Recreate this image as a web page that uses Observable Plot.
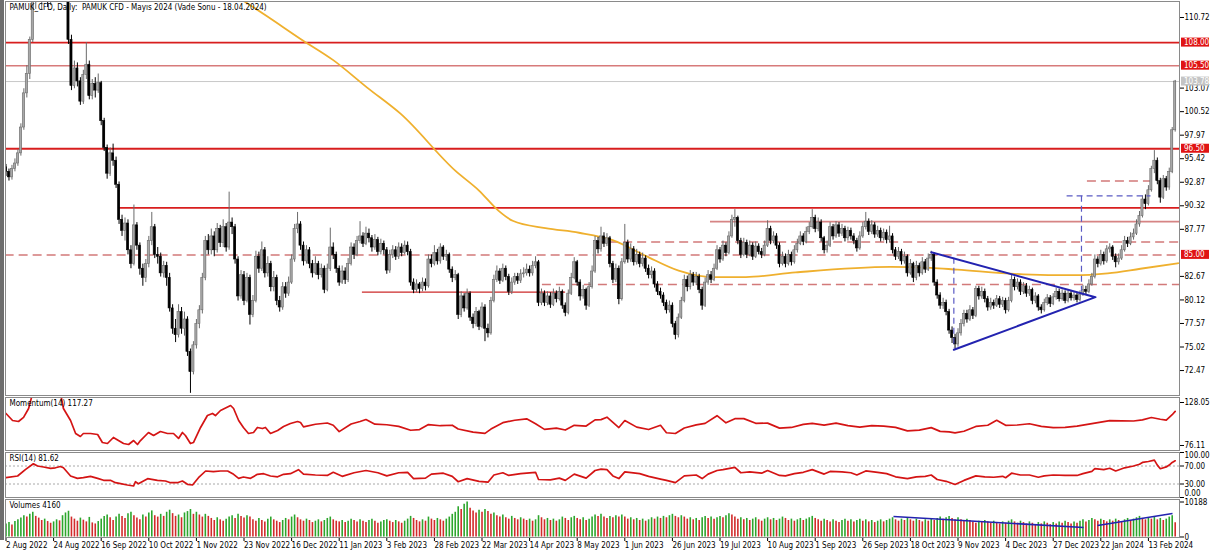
<!DOCTYPE html>
<html><head><meta charset="utf-8">
<script src="https://cdn.jsdelivr.net/npm/d3@7"></script>
<script src="https://cdn.jsdelivr.net/npm/@observablehq/plot@0.6"></script>
<style>
html,body{margin:0;padding:0;background:#fff;}
#wrap{position:relative;width:1211px;height:555px;overflow:hidden;background:#fff;}
#charts svg{display:block;}
#strip{position:absolute;left:0;top:0;width:4px;height:540px;background:#6e6e6e;}
</style></head>
<body><div id="wrap"><div id="charts"></div><div id="strip"></div></div>
<script>
// ---------------- DATA ----------------
const title = "PAMUK_CFD, Daily:  PAMUK CFD - Mayıs 2024 (Vade Sonu - 18.04.2024)";
const dateLabels = ["2 Aug 2022","24 Aug 2022","16 Sep 2022","10 Oct 2022","1 Nov 2022","23 Nov 2022","16 Dec 2022","11 Jan 2023","3 Feb 2023","28 Feb 2023","22 Mar 2023","14 Apr 2023","8 May 2023","1 Jun 2023","26 Jun 2023","19 Jul 2023","10 Aug 2023","1 Sep 2023","26 Sep 2023","18 Oct 2023","9 Nov 2023","4 Dec 2023","27 Dec 2023","22 Jan 2024","13 Feb 2024"];
const barsPerLabel = 16;
const firstOpen = 94.5;
const closes = [
94.0,93.4,94.3,94.9,96.0,98.8,102.5,104.6,108.3,112.5,114.0,115.5,116.0,117.0,115.0,116.0,
117.0,118.0,116.5,117.0,115.0,108.3,103.3,105.2,103.8,101.6,104.5,105.6,102.2,103.5,102.8,103.6,
99.5,96.6,93.8,96.0,95.2,92.6,88.8,87.6,88.4,85.5,84.0,88.2,86.0,83.5,82.5,84.0,
86.5,88.0,85.0,84.8,83.0,83.8,82.5,79.2,77.0,76.3,78.8,77.0,78.0,74.5,72.3,75.2,
77.5,79.0,82.5,86.5,85.5,87.0,85.5,87.8,86.3,88.0,85.8,88.5,88.0,84.5,80.5,82.8,
80.0,82.5,78.5,80.0,84.8,83.5,85.5,83.0,84.0,81.5,82.5,80.0,79.3,81.5,80.8,82.0,
84.5,87.8,88.3,86.0,84.3,85.5,84.0,83.0,84.0,82.8,83.5,81.2,83.5,85.8,85.0,83.5,
82.0,83.2,82.3,84.0,85.8,85.0,86.5,87.0,86.2,87.3,86.8,85.8,86.6,85.3,86.2,85.5,
83.3,85.0,85.5,84.8,85.8,85.2,86.0,85.3,82.0,81.2,81.8,81.3,82.0,81.6,84.5,84.0,
85.2,84.3,85.8,84.8,85.0,83.4,82.5,82.8,78.5,80.5,79.2,80.8,78.2,77.5,78.8,77.2,
79.3,77.0,76.5,80.0,82.3,83.2,82.2,83.5,82.6,81.0,82.0,82.6,82.2,82.9,83.0,83.4,
83.0,83.8,84.2,79.8,80.8,79.8,80.5,79.6,80.8,80.2,81.0,79.5,78.7,80.8,82.5,84.2,
82.0,80.5,81.2,79.5,81.5,83.2,86.5,85.6,87.0,86.2,86.8,84.0,82.3,83.5,80.2,84.2,
86.3,84.5,85.6,84.2,85.0,84.0,84.6,83.5,82.8,83.2,81.8,81.0,80.6,79.8,79.0,79.5,
77.5,76.3,78.2,80.0,82.3,81.5,82.8,82.0,82.6,81.2,79.5,82.0,82.8,82.3,83.5,85.5,
84.5,86.0,85.2,87.0,88.8,89.0,86.5,85.0,86.3,85.0,86.0,84.8,85.9,85.3,85.0,86.0,
87.8,86.5,87.0,86.0,84.0,84.8,84.0,85.0,84.2,85.5,86.2,87.0,86.4,87.5,88.0,89.0,
87.8,88.5,86.8,85.5,86.0,88.0,87.0,88.2,87.3,87.8,86.8,87.6,87.0,86.5,85.7,87.0,
88.0,88.6,87.5,88.2,87.2,87.6,86.8,87.4,86.6,87.0,85.5,84.8,85.3,84.3,84.8,83.0,
84.0,82.5,83.8,83.0,84.2,83.4,84.6,85.0,82.0,80.6,79.5,79.8,78.8,76.8,76.0,75.3,
76.5,77.5,78.6,78.0,79.0,78.4,81.3,80.5,81.0,80.2,79.3,79.8,79.5,80.2,79.6,80.0,
79.0,80.0,82.3,81.5,82.0,81.0,81.6,80.8,81.2,80.0,80.5,79.3,79.0,79.8,80.3,79.7,
80.4,81.0,80.2,80.8,80.0,80.8,80.3,80.6,80.1,80.7,81.2,81.0,81.8,82.6,84.5,84.0,
85.0,84.3,85.6,85.8,84.8,84.2,84.6,85.5,86.5,86.2,86.9,87.3,88.3,89.2,91.0,90.5,
92.0,94.3,95.2,93.0,91.2,93.2,92.3,94.0,98.5,103.78];
const highs = [
94.8,94.3,94.7,95.4,96.4,99.2,103.0,105.5,108.6,113.5,115.0,116.5,117.0,118.0,117.5,117.0,
118.0,119.0,118.5,117.8,117.5,115.5,108.8,106.0,105.8,104.2,105.0,108.0,106.0,104.0,104.2,104.6,
103.8,99.8,96.9,96.6,97.0,95.6,92.9,89.3,89.0,88.8,86.0,90.4,88.5,86.3,84.0,84.5,
87.0,89.6,88.3,85.8,85.2,84.3,84.2,83.0,79.6,78.0,79.6,79.3,78.8,78.3,74.8,75.6,
78.0,79.5,83.0,87.0,87.2,87.8,87.5,88.4,88.2,88.8,88.4,91.8,89.0,88.3,84.8,83.3,
83.2,83.0,82.8,80.6,85.4,85.3,86.4,85.8,84.8,84.3,83.2,82.8,80.5,82.0,82.0,82.6,
85.0,88.3,89.6,88.6,86.4,86.0,85.8,84.4,84.8,84.3,84.0,83.8,84.0,87.9,86.3,85.3,
83.8,83.8,83.6,84.6,86.3,86.2,87.0,88.6,87.4,88.0,87.8,87.1,87.2,86.9,86.7,86.5,
85.8,85.5,86.0,85.9,86.3,86.2,86.5,86.4,85.6,82.4,82.3,82.0,82.5,82.4,85.0,85.0,
86.0,85.6,86.2,86.0,85.5,85.2,83.7,83.3,83.0,81.0,80.8,81.3,81.0,78.6,79.3,79.0,
79.8,79.6,77.5,80.4,82.8,83.8,83.5,84.0,83.8,82.9,82.5,83.0,83.0,83.4,83.6,84.0,
83.8,84.3,84.8,84.4,81.3,81.1,81.0,80.9,81.3,81.1,81.5,81.2,79.8,81.2,83.0,84.7,
84.4,82.3,81.7,81.4,82.0,83.8,87.0,86.9,88.0,87.4,87.3,87.0,84.3,84.0,83.8,84.6,
88.3,86.6,86.2,85.9,85.6,85.3,85.2,84.9,83.9,83.7,83.5,82.1,81.4,80.9,80.1,80.0,
79.8,77.8,78.6,80.4,82.8,82.7,83.3,83.1,83.1,82.9,81.5,82.5,83.3,83.2,84.0,86.0,
85.8,86.5,86.3,87.5,89.3,89.9,89.2,86.8,86.8,86.6,86.5,86.3,86.4,86.2,85.7,86.5,
88.7,88.1,87.5,87.3,86.3,85.3,85.1,85.5,85.3,86.0,86.7,87.5,87.3,88.0,88.5,89.9,
89.3,89.0,88.8,87.0,86.5,88.5,88.3,88.6,88.5,88.3,88.1,88.0,87.9,87.3,86.8,87.5,
88.5,89.6,88.9,88.7,88.5,88.1,87.9,87.8,87.7,88.1,87.3,85.8,85.8,85.6,85.3,85.0,
84.5,84.2,84.3,84.1,84.7,84.5,85.1,85.4,85.2,82.3,80.9,80.3,80.1,79.1,77.2,76.4,
77.0,78.0,79.0,79.0,79.5,79.3,81.6,81.6,81.5,81.3,80.5,80.3,80.1,80.6,80.5,80.4,
80.3,80.4,82.8,82.6,82.4,82.3,82.0,81.9,81.6,81.4,80.9,80.7,79.6,80.2,80.7,80.6,
80.8,81.4,81.3,81.2,81.1,81.2,81.1,81.0,80.9,81.1,81.7,81.6,82.3,83.0,85.0,84.8,
85.5,85.3,86.0,86.2,86.0,85.1,85.1,86.0,87.0,86.9,87.4,87.8,88.8,89.7,91.4,91.5,
92.5,94.6,96.3,95.5,93.3,93.6,93.5,94.4,98.8,103.9];
const lows = [
93.5,93.0,93.1,94.0,94.6,95.7,98.5,102.0,104.0,108.0,111.6,113.5,111.5,115.5,111.8,112.0,
115.5,116.5,115.8,115.5,113.0,107.8,102.8,103.0,103.2,101.2,101.3,104.0,101.8,101.8,102.0,102.5,
99.0,96.2,93.2,93.5,94.6,92.2,88.3,87.0,86.5,85.0,83.5,83.8,85.5,82.8,81.6,82.0,
83.6,86.0,84.6,84.0,82.6,82.5,81.6,78.8,76.4,75.5,76.0,76.4,76.2,74.0,70.0,72.0,
74.8,77.0,78.6,82.2,85.0,85.0,84.8,85.2,85.8,85.8,85.3,85.5,87.2,84.0,80.0,80.2,
79.5,79.8,77.4,78.2,79.8,83.0,83.2,82.5,82.6,81.0,81.0,79.5,78.8,79.0,80.3,80.5,
81.8,84.2,87.3,85.5,83.8,84.0,83.5,82.5,82.8,82.3,82.5,80.8,81.0,83.2,84.5,83.0,
81.6,81.8,81.8,82.0,83.8,84.5,84.8,86.2,85.8,86.0,86.3,85.3,85.5,84.9,85.0,85.0,
82.9,83.0,84.6,84.4,84.5,84.8,85.0,84.9,81.6,80.8,80.9,80.8,81.0,81.1,81.4,83.6,
83.8,83.9,84.0,84.4,84.3,83.0,82.0,82.2,78.0,78.2,78.8,79.0,77.8,77.0,77.2,76.8,
77.0,75.6,76.0,76.3,79.8,82.0,81.8,82.0,82.2,80.6,80.7,81.7,81.8,81.9,82.5,82.7,
82.6,82.7,83.5,79.4,79.5,79.4,79.5,79.2,79.4,79.8,80.0,79.1,78.3,78.5,80.6,82.3,
81.6,80.0,80.2,79.0,79.3,81.3,83.0,85.1,85.3,85.8,85.9,83.6,81.9,82.0,79.6,80.0,
84.0,84.1,84.2,83.8,83.9,83.6,83.7,83.1,82.4,82.4,81.4,80.6,80.2,79.4,78.6,78.7,
77.1,75.8,76.0,78.0,79.8,81.0,81.2,81.6,81.7,80.8,79.0,79.3,81.7,81.9,82.1,83.3,
84.1,84.3,84.8,85.0,86.8,88.0,86.1,84.6,84.8,84.6,84.8,84.4,84.6,85.0,84.6,84.8,
85.8,86.1,86.2,85.6,83.6,83.8,83.6,83.8,83.8,84.0,85.2,86.0,86.0,86.2,87.2,87.8,
87.4,87.5,86.4,85.1,85.2,85.8,86.6,86.8,86.9,87.0,86.4,86.5,86.6,86.1,85.3,85.5,
86.8,87.7,87.1,87.2,86.8,86.9,86.4,86.5,86.2,86.3,85.1,84.4,84.5,83.9,84.0,82.6,
82.8,82.0,82.2,82.6,82.8,83.0,83.2,84.3,81.6,80.2,79.1,79.1,78.4,76.4,75.4,74.8,
75.0,76.2,77.2,77.6,77.8,78.0,78.2,80.1,80.2,79.8,78.9,79.0,79.1,79.3,79.2,79.3,
78.6,78.8,79.8,81.1,81.2,80.6,80.7,80.4,80.5,79.6,79.7,78.9,78.6,78.8,79.5,79.3,
79.5,80.1,79.9,80.0,79.7,79.8,80.0,80.0,79.8,79.9,80.5,80.7,80.8,81.6,82.4,83.6,
83.8,83.9,84.1,85.2,84.4,83.6,83.9,84.4,85.3,85.8,86.0,86.6,87.1,88.0,89.0,89.9,
90.3,91.8,93.8,92.6,90.6,91.0,91.9,92.0,93.8,98.3];
// volumes, in hundreds of lots
const volumesHundreds = [
38,42,35,45,50,55,62,58,66,72,60,55,48,52,45,40,
44,50,47,62,70,75,58,52,46,55,49,44,57,41,38,45,
52,60,64,56,48,58,66,60,54,68,72,62,55,50,64,58,
70,76,62,58,66,60,72,78,68,60,64,56,70,74,80,66,
72,64,58,66,60,54,48,56,50,46,52,58,62,54,66,60,
55,62,58,50,46,54,48,44,52,58,50,46,42,48,54,50,
58,64,56,50,46,52,48,42,46,50,44,48,54,58,50,46,
44,48,42,46,52,48,44,50,46,42,48,52,46,40,44,48,
50,46,42,48,44,40,46,52,60,54,48,44,50,46,58,52,
48,54,50,46,52,58,66,72,88,80,95,101.88,84,76,70,78,
72,80,74,66,70,62,58,64,56,52,60,54,50,56,52,48,
52,46,50,62,56,50,54,48,52,46,50,58,54,48,56,60,
54,50,56,48,52,58,64,60,66,58,54,60,56,62,58,64,
58,52,56,50,54,48,52,46,50,56,52,58,54,60,56,62,
66,60,56,62,58,52,56,50,54,48,56,60,54,58,52,56,
60,56,62,68,64,58,52,56,50,54,48,52,56,50,46,52,
56,50,54,48,52,58,54,48,52,46,50,54,48,52,56,60,
54,50,46,52,48,44,50,46,42,48,52,46,50,44,48,52,
46,50,44,48,42,46,50,44,48,52,56,50,46,52,48,54,
50,46,52,48,44,50,46,52,48,54,58,52,56,60,54,50,
56,50,46,52,48,44,40,46,42,48,44,40,46,42,38,44,
40,46,50,44,40,46,42,38,44,40,36,42,38,44,40,36,
42,38,44,40,46,42,38,44,40,46,50,44,48,54,50,46,
52,48,44,50,46,52,48,44,50,54,48,52,56,60,54,50,
56,52,58,50,54,48,52,58,62,41.6];
// moving average: [bar, price]
const maPoints = [[79.5,112.6],[88,110.8],[99,108.4],[110,106.1],[121.5,103.1],[132.6,100.3],[151.1,94.1],[158.9,92.0],[165.5,89.8],[170.3,88.7],[181.3,87.9],[192.6,87.4],[203.9,86.6],[215,84.9],[226.1,83.3],[237.5,82.6],[248.7,82.6],[265.4,83.1],[297.3,83.7],[310.8,83.6],[319.8,83.4],[342,82.9],[358.8,82.8],[370.3,83.0],[381.3,83.5],[394,84.1]];
// Momentum(14): [bar, value]
const momentum = [[0,114.8],[2.2,106.3],[4.2,105.1],[5.9,110],[7.6,120.8],[9,140],[12,150],[15,152],[18,145],[19.3,120.8],[21.7,106.3],[23.4,90.6],[25,87],[26,90.6],[28.4,90.6],[30.8,89.4],[32.4,79.7],[34.1,78.5],[36.1,85.8],[37.8,82.1],[39.5,78.5],[41.2,77.3],[42.9,82.1],[44.2,77.3],[45.2,82.1],[47.9,91.8],[49.6,88.2],[51.9,93],[54.3,90.6],[56.3,90.6],[58,84.6],[59.3,91.8],[60.3,88.2],[62,78.5],[63,79.7],[65.4,97.9],[67.7,112.3],[69.4,114.8],[70.4,112.3],[72.1,118.4],[75.5,124.4],[76.5,120.8],[78.2,106.3],[79.8,97.9],[81.5,90.6],[83.2,91.8],[84.5,97.9],[86.2,96.6],[87.2,97.9],[88.9,90.6],[91.3,94.2],[93.3,99],[95.6,102.7],[98,105.1],[99,103.9],[100,98.6],[104,101.8],[108,103.3],[110,100.6],[112,92.9],[116,102.1],[119,105.1],[121,107.5],[124,101.9],[128,101.2],[132,99.2],[136,94.5],[139,95.3],[142,101.4],[146,100],[150,100.6],[152,96],[157,92.3],[161,90.8],[163,95.9],[167,103.7],[171,106.6],[175,108.3],[178,102.3],[181,95.6],[185,97.1],[188,94.8],[191,100.5],[195,99.6],[198,107.1],[200,107.4],[202,110.3],[206,97.8],[208,106.3],[212,98.3],[216,95.4],[220,100.5],[222,91.5],[225,90.6],[228,97.3],[232,101],[235,102.8],[239,112.1],[242,103.5],[245,108.5],[248,108.6],[252,102.9],[256,103.1],[260,97.1],[264,97.9],[268,101.6],[271,102.9],[275,100.8],[279,103.2],[283,100.1],[287,98.3],[291,100.2],[295,99.5],[299,98],[303,93.7],[307,94.7],[311,97.7],[314,93.2],[317,92.5],[319,91.3],[322,93.3],[326,99.1],[330,100.6],[333,106.5],[336,100.5],[340,100.9],[344,102.4],[348,99.2],[352,97.7],[356,98],[360,99.5],[364,101.9],[367,103.7],[371,106.2],[375,105.9],[379,105.7],[382,107.1],[385,109.9],[388,107.8],[390,106.7],[392,113.3],[393,117.27]];
// RSI(14): [bar, value]
const rsi = [[0,44],[3.9,47.8],[6.6,62.6],[9.2,75],[10.6,70],[12.6,67.8],[15,64.9],[16.6,66],[18.3,69],[19.3,66],[21.7,47.8],[24,42.6],[26,44],[28.4,47],[30.8,42.6],[32.8,38.2],[35.1,38.2],[36.8,32.9],[38.5,30.7],[40.8,27.8],[42.9,25.6],[43.5,35],[44.5,30.7],[47.6,41.8],[50.9,38.2],[53.6,36.7],[55.3,32.9],[57.6,32.9],[59.3,36.7],[61,29.3],[62.7,27.8],[64.7,44],[67.1,58.9],[69.7,57.3],[72.1,58.9],[74.5,58.9],[76.5,51.5],[78.2,42.6],[79.8,45.6],[82.2,42.6],[84.5,51.5],[86.6,52.9],[88.9,47.8],[91.3,46],[93.3,51.5],[95.6,52.9],[98.3,61.8],[100,52],[104,50],[108,49],[110,56],[113,47],[117,55],[121,60],[125,55],[128,48],[132,55],[135,56],[137,42],[141,43],[143,52],[147,54],[150,47],[152,35],[155,42],[159,36],[162,34],[164,50],[167,55],[169,49],[173,53],[178,56],[179,40],[183,39],[186,43],[188,38],[191,52],[195,43],[198,60],[200,63],[202,62],[204,48],[206,42],[208,57],[213,53],[216,47],[220,41],[222,38],[225,33],[228,48],[232,50],[234,42],[236,52],[239,60],[241,62],[245,67],[247,55],[250,57],[254,54],[256,60],[260,49],[262,48],[265,53],[268,56],[271,62],[275,52],[277,58],[281,57],[284,55],[286,50],[289,59],[293,56],[296,53],[299,46],[303,42],[306,46],[309,47],[311,50],[313,40],[316,36],[319,29],[322,38],[326,48],[329,46],[332,45],[335,47],[336,44],[338,54],[341,50],[344,50],[347,45],[349,48],[352,50],[356,49],[360,49],[362,53],[365,58],[366,64],[369,62],[371,65],[373,59],[376,66],[379,70],[381,74],[382,78],[384,80],[386,83],[387,72],[388,64],[390,68],[391,72],[392,78],[393,81.62]];
const rsiLevels = [70, 30];
// drawn objects on the price chart (price, bar index)
const bidPrice = 103.78;
const redLevels = [108.0, 96.5];
const pinkLevels = [105.5];
const redSegments = [[90.1, 37.8, 400]];
const thinRedSegments = [[80.96, 119.8, 188.1]];
const pinkSegments = [[88.6, 236.8, 400]];
const dashedSegments = [[85.0, -5, 400], [86.4, 198.2, 400], [81.8, 180.3, 400], [93.0, 363.5, 385.7]];
const triangle = [[311.0, 85.29], [366.2, 80.42], [318.6, 74.72]];
const blueDashed = [[356.5, 91.4, 384.7, 91.4], [361.5, 91.4, 361.5, 81.1], [318.6, 84.7, 318.6, 74.9]];
const priceTags = [108.00, 105.50, 96.50, 85.00];
const volumeTrend = [[298.3, 5967, 362.2, 2765], [366.9, 3348, 392.1, 6840]];
// axis tick values
const mainTicks = [110.72, 103.07, 100.52, 97.97, 95.42, 92.87, 90.32, 87.77, 82.67, 80.12, 77.57, 75.02, 72.47];
const momTicks = [128.05, 76.11];
const volTicks = [10188, 0];

// ---------------- CHART ----------------
const FONT = "'Liberation Sans Narrow','DejaVu Sans Condensed','Liberation Sans',sans-serif";
const W = 1211, ML = 5, MR = 32;
const xDomain = [-0.17, 394.45];
const baseStyle = {fontFamily: FONT, fontSize: "8px", background: "transparent", color: "#000", overflow: "visible"};
const UP = "#a8a8a8", UPS = "#6a6a6a", DN = "#000";

const candles = closes.map((c, i) => ({i, o: i === 0 ? firstOpen : closes[i - 1], c, h: highs[i], l: lows[i]}));
const vols = volumesHundreds.map((v, i) => ({i, v: Math.round(v * 100)}));
vols.forEach((d, i) => d.up = i === 0 ? true : d.v >= vols[i - 1].v);

const axisR = (ticks, fmt) => Plot.axisY({ticks, anchor: "right", tickSize: 4, tickPadding: 1, tickFormat: fmt, fontSize: 8, label: null});
const common = {width: W, marginLeft: ML, marginRight: MR, style: baseStyle, color: {type: "identity"}};

const main = Plot.plot({
  ...common, height: 396, marginTop: 1, marginBottom: 1,
  x: {type: "linear", domain: xDomain, axis: null},
  y: {domain: [69.767, 112.453], axis: null},
  marks: [
    Plot.ruleY([bidPrice], {stroke: "#c8c8c8", strokeWidth: 1}),
    Plot.ruleY(redLevels, {stroke: "#d81e1e", strokeWidth: 1.8}),
    Plot.ruleY(pinkLevels, {stroke: "#d77a7a", strokeWidth: 1.6}),
    Plot.ruleY(redSegments, {y: d => d[0], x1: d => d[1], x2: d => d[2], stroke: "#d81e1e", strokeWidth: 1.8, clip: true}),
    Plot.ruleY(thinRedSegments, {y: d => d[0], x1: d => d[1], x2: d => d[2], stroke: "#cc2a2a", strokeWidth: 1.2, clip: true}),
    Plot.ruleY(pinkSegments, {y: d => d[0], x1: d => d[1], x2: d => d[2], stroke: "#d68484", strokeWidth: 1.6, clip: true}),
    Plot.ruleY(dashedSegments, {y: d => d[0], x1: d => d[1], x2: d => d[2], stroke: "#d27a7a", strokeWidth: 1.5, strokeDasharray: "9,5", clip: true}),
    Plot.line(maPoints, {x: d => d[0], y: d => d[1], stroke: "#efb02e", strokeWidth: 1.8, curve: "monotone-x", clip: true}),
    Plot.ruleX(candles, {x: "i", y1: "l", y2: "h", stroke: d => d.c >= d.o ? UPS : DN, strokeWidth: 1, clip: true}),
    Plot.rect(candles, {x1: d => d.i - 0.36, x2: d => d.i + 0.36, y1: "o", y2: "c", fill: d => d.c >= d.o ? UP : DN, stroke: d => d.c >= d.o ? UPS : DN, strokeWidth: 0.6, clip: true}),
    Plot.link(blueDashed, {x1: d => d[0], y1: d => d[1], x2: d => d[2], y2: d => d[3], stroke: "#5a5ac4", strokeWidth: 1.2, strokeDasharray: "6,4"}),
    Plot.line(triangle, {x: d => d[0], y: d => d[1], stroke: "#2323b0", strokeWidth: 2}),
    Plot.text([title], {frameAnchor: "top-left", dx: 4, dy: 3, textAnchor: "start", lineAnchor: "top", fontSize: 8, fill: "#000"}),
    axisR(mainTicks, d => d.toFixed(2)),
    Plot.ruleX([xDomain[1]], {stroke: "#000", strokeWidth: 1}),
    Plot.frame({stroke: "#8a8a8a"})
  ]
});

const mom = Plot.plot({
  ...common, height: 55, marginTop: 1, marginBottom: 1,
  x: {type: "linear", domain: xDomain, axis: null},
  y: {domain: [70.07, 134.09], axis: null},
  marks: [
    Plot.line(momentum, {x: d => d[0], y: d => d[1], stroke: "#d41414", strokeWidth: 1.7, clip: true}),
    Plot.text([`Momentum(14) ${momentum[momentum.length - 1][1].toFixed(2)}`], {frameAnchor: "top-left", dx: 4, dy: 3, textAnchor: "start", lineAnchor: "top", fontSize: 8, fill: "#000"}),
    axisR(momTicks, d => d.toFixed(2)),
    Plot.ruleX([xDomain[1]], {stroke: "#000"}),
    Plot.frame({stroke: "#8a8a8a"})
  ]
});

const rsiPlot = Plot.plot({
  ...common, height: 47, marginTop: 1, marginBottom: 1,
  x: {type: "linear", domain: xDomain, axis: null},
  y: {domain: [0, 100], axis: null},
  marks: [
    Plot.ruleY(rsiLevels, {stroke: "#a8a8a8", strokeDasharray: "2,2"}),
    Plot.line(rsi, {x: d => d[0], y: d => d[1], stroke: "#d41414", strokeWidth: 1.7, clip: true}),
    Plot.text([`RSI(14) ${rsi[rsi.length - 1][1].toFixed(2)}`], {frameAnchor: "top-left", dx: 4, dy: 3, textAnchor: "start", lineAnchor: "top", fontSize: 8, fill: "#000"}),
    axisR([100, 70, 30, 0], d => (d === 70 || d === 30) ? d.toFixed(2) : ""),
    Plot.text([100], {y: d => d, frameAnchor: "right", dx: 5, dy: 3, textAnchor: "start", text: d => d.toFixed(2), fontSize: 8, fill: "#000"}),
    Plot.text([0], {y: d => d, frameAnchor: "right", dx: 5, dy: -4, textAnchor: "start", text: d => d.toFixed(2), fontSize: 8, fill: "#000"}),
    Plot.ruleX([xDomain[1]], {stroke: "#000"}),
    Plot.frame({stroke: "#8a8a8a"})
  ]
});

const volPlot = Plot.plot({
  ...common, height: 57, marginTop: 1, marginBottom: 18,
  x: {type: "linear", domain: xDomain, label: null},
  y: {domain: [-146, 10916], axis: null},
  marks: [
    Plot.ruleX(vols, {x: "i", y1: 0, y2: "v", stroke: d => d.up ? "#2ca62c" : "#d22b2b", strokeWidth: 1.6, clip: true}),
    Plot.link(volumeTrend, {x1: d => d[0], y1: d => d[1], x2: d => d[2], y2: d => d[3], stroke: "#2323b0", strokeWidth: 1.6}),
    Plot.text([`Volumes ${vols[vols.length - 1].v}`], {frameAnchor: "top-left", dx: 4, dy: 3, textAnchor: "start", lineAnchor: "top", fontSize: 8, fill: "#000"}),
    axisR(volTicks, d => String(d)),
    Plot.axisX({ticks: dateLabels.map((_, k) => k * barsPerLabel), tickFormat: d => dateLabels[Math.round(d / barsPerLabel)], anchor: "bottom", tickSize: 4, tickPadding: 1, textAnchor: "start", fontSize: 8, label: null}),
    Plot.ruleX([xDomain[1]], {stroke: "#000"}),
    Plot.frame({stroke: "#8a8a8a"})
  ]
});

// price tags in the right margin, positioned through the y scale
{
  const ys = main.scale("y");
  const g = d3.select(main).append("g")
    .attr("font-family", FONT).attr("font-size", 8).attr("text-anchor", "start");
  const tag = (p, bg) => {
    const y = ys.apply(p);
    g.append("rect").attr("x", W - MR + 2).attr("y", y - 4.5).attr("width", 28).attr("height", 9).attr("fill", bg);
    g.append("text").attr("x", W - MR + 5).attr("y", y).attr("dy", "0.35em")
      .attr("text-anchor", "start").attr("fill", "#fff").text(p.toFixed(2));
  };
  tag(bidPrice, "#c4c4c4");
  priceTags.forEach(p => tag(p, "#e01414"));
}

const host = document.getElementById("charts");
[main, mom, rsiPlot, volPlot].forEach(n => host.appendChild(n));
</script></body></html>
